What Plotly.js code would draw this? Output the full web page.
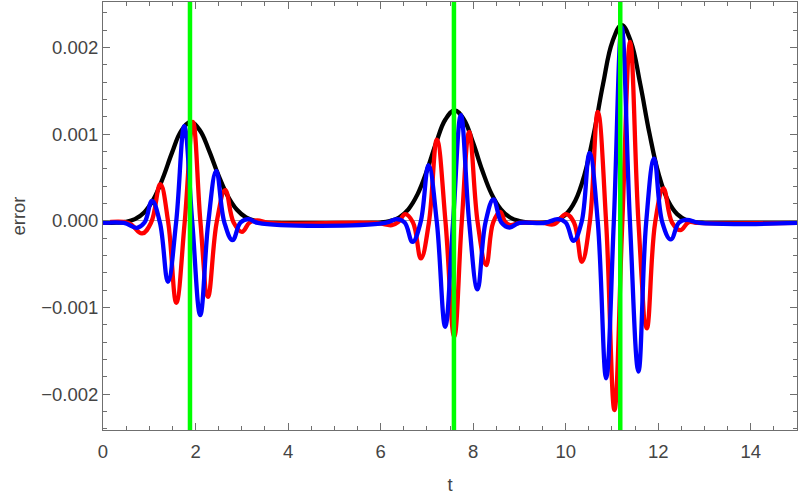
<!DOCTYPE html>
<html>
<head>
<meta charset="utf-8">
<script src="https://cdn.plot.ly/plotly-3.0.1.min.js"></script>
<style>html,body{margin:0;padding:0;background:#fff;}#chart{width:800px;height:496px;}</style>
</head>
<body>
<div id="chart"></div>
<script>
// Envelope (black)
var blackT = [0, 0.29, 0.49, 0.69, 0.89, 1.09, 1.29, 1.49, 1.69, 1.89, 2.09, 2.29, 2.49, 2.69, 2.89, 3.09, 3.29, 3.49, 3.7,
  5.8, 6.0, 6.2, 6.4, 6.6, 6.8, 7.0, 7.2, 7.4, 7.6, 7.8, 8.0, 8.2, 8.4, 8.6, 8.8, 9.0, 9.2,
  9.41, 9.61, 9.81, 10.01, 10.21, 10.41, 10.61, 10.81, 11.01, 11.21, 11.41, 11.61, 11.81, 12.01, 12.21, 12.41, 12.61, 12.81, 13.01, 13.2, 15];
var blackV = [-0.000025, -0.000022, -0.000012, 0.000020, 0.000097, 0.000248, 0.000488, 0.000784, 0.001038, 0.001140, 0.001047, 0.000814, 0.000533, 0.000293, 0.000131, 0.000040, -0.000002, -0.00002, -0.000025,
  -0.000025, -0.00002, -0.000003, 0.000038, 0.000133, 0.000308, 0.000578, 0.000900, 0.001170, 0.001276, 0.001170, 0.000900, 0.000578, 0.000308, 0.000133, 0.000038, -0.000003, -0.00002,
  -0.000023, -0.000017, 0.000008, 0.000077, 0.000234, 0.000538, 0.001012, 0.001583, 0.002068, 0.002260, 0.002068, 0.001583, 0.001012, 0.000538, 0.000234, 0.000077, 0.000008, -0.000017, -0.000023, -0.000025, -0.000025];

// Red series
var redT = [0, 0.55, 0.843, 1.04, 1.238, 1.41, 1.584, 1.765, 1.945, 2.107, 2.269, 2.456, 2.643, 2.823, 3.003, 3.17, 3.33, 3.6,
  5.9, 6.244, 6.39, 6.532, 6.70, 6.871, 7.044, 7.217, 7.404, 7.591, 7.753, 7.915, 8.098, 8.282, 8.433, 8.585, 8.69, 8.80, 9.0,
  9.5, 9.75, 10.011, 10.18, 10.35, 10.52, 10.695, 10.875, 11.054, 11.224, 11.394, 11.574, 11.754, 11.934, 12.113, 12.3, 12.48, 12.66, 12.85, 15];
var redV = [-0.000025, -0.000025, -0.000146, -0.00002, 0.000423, -0.00002, -0.000946, -0.00002, 0.001141, -0.00002, -0.000877, -0.00002, 0.000354, -0.00002, -0.000127, -0.00002, 0.000005, -0.000025,
  -0.000025, -0.00005, -0.00001, 0.000077, -0.00002, -0.000434, -0.00002, 0.000938, -0.00002, -0.001338, -0.00002, 0.001026, -0.00002, -0.000512, -0.00002, 0.000103, -0.00001, -0.00005, -0.000025,
  -0.000025, -0.00004, 0.000077, -0.00002, -0.000473, -0.00002, 0.001257, -0.00002, -0.002184, -0.00002, 0.002064, -0.00002, -0.001242, -0.00002, 0.000373, -0.00002, -0.000108, -0.000015, -0.000025, -0.000025];

// Blue series
var blueT = [0, 0.45, 0.735, 0.897, 1.059, 1.23, 1.404, 1.58, 1.757, 1.93, 2.102, 2.275, 2.448, 2.624, 2.800, 2.973, 3.146, 3.35,
  6.1, 6.352, 6.52, 6.69, 6.863, 7.036, 7.216, 7.396, 7.565, 7.735, 7.915, 8.094, 8.267, 8.44, 8.613, 8.786, 9.0,
  9.55, 9.83, 10.0, 10.169, 10.342, 10.515, 10.695, 10.875, 11.04, 11.21, 11.39, 11.573, 11.74, 11.912, 12.09, 12.273, 12.45, 12.62, 12.9, 15];
var blueV = [-0.000025, -0.000025, -0.000081, -0.00002, 0.000230, -0.00002, -0.000704, -0.00002, 0.001092, -0.00002, -0.001088, -0.00002, 0.000576, -0.00002, -0.000223, -0.00002, 0.000019, -0.000025,
  -0.000025, 0.00002, -0.00002, -0.000243, -0.00002, 0.000642, -0.00002, -0.001223, -0.00002, 0.001219, -0.00002, -0.000792, -0.00002, 0.000246, -0.00002, -0.000077, -0.000025,
  -0.000025, 0.00002, -0.00002, -0.000231, -0.00002, 0.000784, -0.00002, -0.001819, -0.00002, 0.002237, -0.00002, -0.001742, -0.00002, 0.000719, -0.00002, -0.000215, -0.00002, 0.00001, -0.000025, -0.000025];

// Green marker lines (t positions)
var greenT = [1.88, 7.585, 11.18];

var font = 'Liberation Sans, Arial, sans-serif';
function tr(x, y, color) {
  return {x: x, y: y, type: 'scatter', mode: 'lines', hoverinfo: 'skip',
    line: {color: color, width: 4.3, shape: 'spline', smoothing: 1.15}};
}
var data = [tr(blackT, blackV, '#000000'), tr(redT, redV, '#ff0000'), tr(blueT, blueV, '#0000ff')];

var shapes = greenT.map(function (g) {
  return {type: 'line', xref: 'x', yref: 'paper', x0: g, x1: g, y0: 0, y1: 1, layer: 'above',
    line: {color: '#00ff00', width: 4.5}};
});

var axCommon = {
  showgrid: false, showline: true, linecolor: '#6f6f6f', linewidth: 1, mirror: 'allticks',
  ticks: 'inside', ticklen: 7, tickwidth: 1, tickcolor: '#6f6f6f',
  tickfont: {family: font, size: 18.5, color: '#444444'}
};
var layout = {
  width: 800, height: 496,
  margin: {l: 103, r: 3, t: 2, b: 66},
  paper_bgcolor: '#ffffff', plot_bgcolor: '#ffffff',
  showlegend: false,
  xaxis: Object.assign({}, axCommon, {
    range: [0, 15], tick0: 0, dtick: 2, zeroline: false, ticklabelstandoff: 5,
    minor: {dtick: 0.5, ticks: 'inside', ticklen: 4, tickcolor: '#6f6f6f'},
    title: {text: 't', font: {family: font, size: 18.5, color: '#444444'}, standoff: 16}
  }),
  yaxis: Object.assign({}, axCommon, {
    range: [-0.002415, 0.002526], tick0: 0, dtick: 0.001, tickformat: '.3f',
    zeroline: true, zerolinecolor: '#999999', zerolinewidth: 1,
    minor: {dtick: 0.0002, ticks: 'inside', ticklen: 4, tickcolor: '#6f6f6f'},
    title: {text: 'error', font: {family: font, size: 18.5, color: '#444444'}, standoff: 10}
  }),
  shapes: shapes
};
Plotly.newPlot('chart', data, layout, {displayModeBar: false, staticPlot: true});
</script>
</body>
</html>
